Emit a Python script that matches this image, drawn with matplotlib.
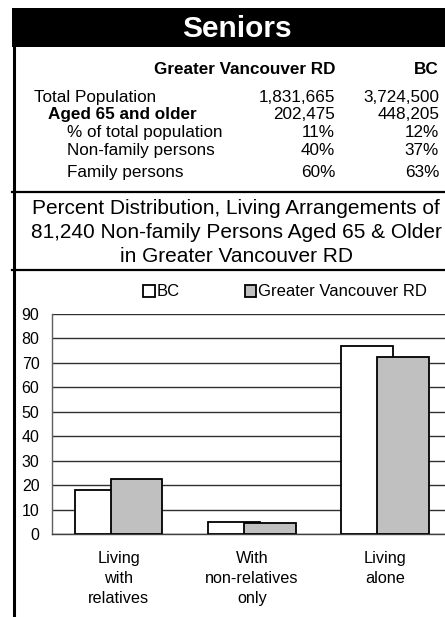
import matplotlib
matplotlib.use("Agg")
import matplotlib.pyplot as plt
import numpy as np
from matplotlib.patches import Rectangle
from matplotlib.lines import Line2D

plt.rcParams['font.family'] = ['Liberation Sans', 'DejaVu Sans']

# ---- data ----
title = "Seniors"
col_headers = ["Greater Vancouver RD", "BC"]
row_labels = ["Total Population", "Aged 65 and older", "% of total population",
              "Non-family persons", "Family persons"]
gv_values = ["1,831,665", "202,475", "11%", "40%", "60%"]
bc_values = ["3,724,500", "448,205", "12%", "37%", "63%"]

chart_title = ("Percent Distribution, Living Arrangements of\n"
               "81,240 Non-family Persons Aged 65 & Older\n"
               "in Greater Vancouver RD")
categories = ["Living\nwith\nrelatives", "With\nnon-relatives\nonly", "Living\nalone"]
bc_pct = [18.0, 5.0, 76.8]
gv_pct = [22.6, 4.6, 72.4]
series_names = ["BC", "Greater Vancouver RD"]
yticks = [0, 10, 20, 30, 40, 50, 60, 70, 80, 90]

W, H = 445, 617
fig = plt.figure(figsize=(W / 100, H / 100), dpi=100)

def fx(x):
    return x / W

def fy(y):
    return 1 - y / H

# title bar
fig.patches.append(Rectangle((fx(12), fy(47)), (W - 12) / W, 39 / H,
                             transform=fig.transFigure, facecolor='black',
                             edgecolor='none'))
fig.text(fx(237), fy(37), title, color='white', fontsize=21.5,
         fontweight='bold', ha='center', va='baseline')

# frame lines
fig.add_artist(Line2D([fx(13.5), fx(13.5)], [fy(47), fy(617)], color='black',
                      lw=2.2, transform=fig.transFigure))
for yy in (192, 270):
    fig.add_artist(Line2D([fx(12), fx(445)], [fy(yy), fy(yy)], color='black',
                          lw=1.6, transform=fig.transFigure))

# table
fs_tab = 12.3
fig.text(fx(335), fy(74), col_headers[0], fontsize=fs_tab, fontweight='bold',
         ha='right', va='baseline')
fig.text(fx(439), fy(74), col_headers[1], fontsize=fs_tab, fontweight='bold',
         ha='right', va='baseline')
row_base = [102, 119, 137, 155, 177]
row_x = [34, 48, 67, 67, 67]
for i, lab in enumerate(row_labels):
    fw = 'bold' if i == 1 else 'normal'
    fig.text(fx(row_x[i]), fy(row_base[i]), lab, fontsize=fs_tab, fontweight=fw,
             ha='left', va='baseline')
    fig.text(fx(335), fy(row_base[i]), gv_values[i], fontsize=fs_tab,
             ha='right', va='baseline')
    fig.text(fx(439), fy(row_base[i]), bc_values[i], fontsize=fs_tab,
             ha='right', va='baseline')

# chart title
for j, line in enumerate(chart_title.split("\n")):
    fig.text(fx(236), fy([214, 238, 262][j]), line, fontsize=15,
             ha='center', va='baseline')

# chart
ax = fig.add_axes([fx(52), fy(534), 400 / W, 220 / H])
x = np.arange(len(categories))
w = 0.3875
off = 0.135
b1 = ax.bar(x - off, bc_pct, width=w, facecolor='white', edgecolor='black',
            linewidth=1.3, zorder=3, label=series_names[0])
b2 = ax.bar(x + off, gv_pct, width=w, facecolor='#c0c0c0', edgecolor='black',
            linewidth=1.3, zorder=4, label=series_names[1])
ax.set_xlim(-0.5, 2.5)
ax.set_ylim(0, 90)
ax.set_yticks(yticks)
ax.set_xticks(x)
ax.set_xticklabels(categories, fontsize=11.7, linespacing=1.42)
ax.tick_params(axis='y', length=0, pad=9, labelsize=11.5)
ax.tick_params(axis='x', length=0, pad=12)
ax.yaxis.grid(True, color='#303030', lw=1.0)
ax.set_axisbelow(True)
for s in ('top', 'right'):
    ax.spines[s].set_visible(False)
ax.spines['left'].set_color('#606060')
ax.spines['left'].set_linewidth(1.0)
ax.spines['bottom'].set_color('#404040')
ax.spines['bottom'].set_linewidth(1.0)

fig.legend(handles=[b1, b2], labels=series_names, ncol=2, loc='center',
           bbox_to_anchor=(fx(285), fy(292)), frameon=False, fontsize=12,
           handlelength=0.7, handleheight=0.7, handletextpad=0.1,
           columnspacing=3.9, borderpad=0, borderaxespad=0)

fig.savefig("out.png", dpi=100)
